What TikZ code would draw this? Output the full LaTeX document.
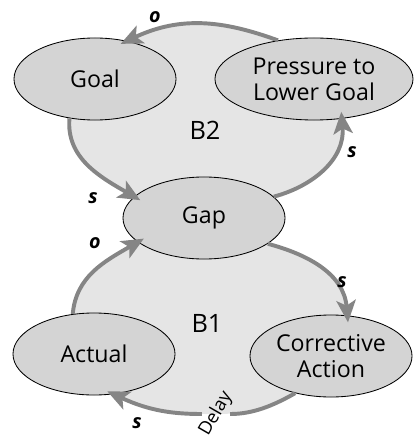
\documentclass[tikz,border=0pt]{standalone}
\usepackage{fontspec}
\setmainfont{Open Sans}
\usetikzlibrary{shapes.geometric,arrows.meta,backgrounds}
\begin{document}
\begin{tikzpicture}[x=0.025cm,y=0.025cm,
    var/.style={ellipse,draw,line width=0.6pt,fill=black!17,minimum width=4.05cm,
        minimum height=2.05cm,inner sep=0pt,align=center,font=\fontsize{16.5}{18.5}\selectfont},
    link/.style={line width=2.8pt,draw=black!48,shorten >=-5pt,
        -{Stealth[length=5.5mm,width=4.8mm,inset=1.3mm]}},
    sign/.style={font=\bfseries\itshape\fontsize{14}{14}\selectfont},
    loopname/.style={font=\fontsize{18}{18}\selectfont}]
    \useasboundingbox (0,0) rectangle (414,-439);
    % Draw variables
    \node[var] (goal) at (95,-79) {Goal};
    \node[var,minimum width=4.95cm] (press) at (314,-79) {Pressure to\\Lower Goal};
    \node[var] (gap) at (204,-218) {Gap};
    \node[var] (act) at (94,-354) {Actual};
    \node[var] (corr) at (331,-356) {Corrective\\Action};
    \coordinate (delay) at (216,-414);
    % Shade the loops
    \begin{pgfonlayer}{background}
        \fill[black!10] (press.133) to[out=160,in=25] (goal.50) -- (goal.-123)
            to[out=-95,in=150] (gap.163) -- (gap.17) to[out=15,in=-85] (press.-55) -- cycle;
        \fill[black!10] (act.118) to[out=85,in=-150] (gap.-160) -- (gap.-22)
            to[out=-15,in=95] (corr.68) -- (corr.-134) to[out=-150,in=0] (delay)
            to[out=180,in=-25] (act.-64) -- cycle;
    \end{pgfonlayer}
    % Loop B2
    \draw[link] (press.133) to[out=160,in=25] (goal.50);
    \draw[link] (goal.-123) to[out=-95,in=150] (gap.163);
    \draw[link] (gap.17) to[out=15,in=-85] (press.-55);
    % Loop B1
    \draw[link] (act.118) to[out=85,in=-150] (gap.-160);
    \draw[link] (gap.-22) to[out=-15,in=95] (corr.68);
    \draw[line width=2.8pt,draw=black!48,shorten >=10pt] (corr.-134) to[out=-150,in=0] (delay);
    \draw[link,shorten <=10pt] (delay) to[out=180,in=-25] (act.-64);
    \node[rotate=60,font=\fontsize{13}{13}\selectfont,inner sep=0pt] (delaytxt) at (delay) {Delay};
    % Label polarities
    \node[sign] at (155,-17) {o};
    \node[sign] at (352,-152) {s};
    \node[sign] at (93,-198) {s};
    \node[sign] at (95,-243) {o};
    \node[sign] at (342,-282) {s};
    \node[sign] at (137,-423) {s};
    % Label loops
    \node[loopname] at (205,-130) {B2};
    \node[loopname] at (207,-323) {B1};
\end{tikzpicture}
\end{document}
